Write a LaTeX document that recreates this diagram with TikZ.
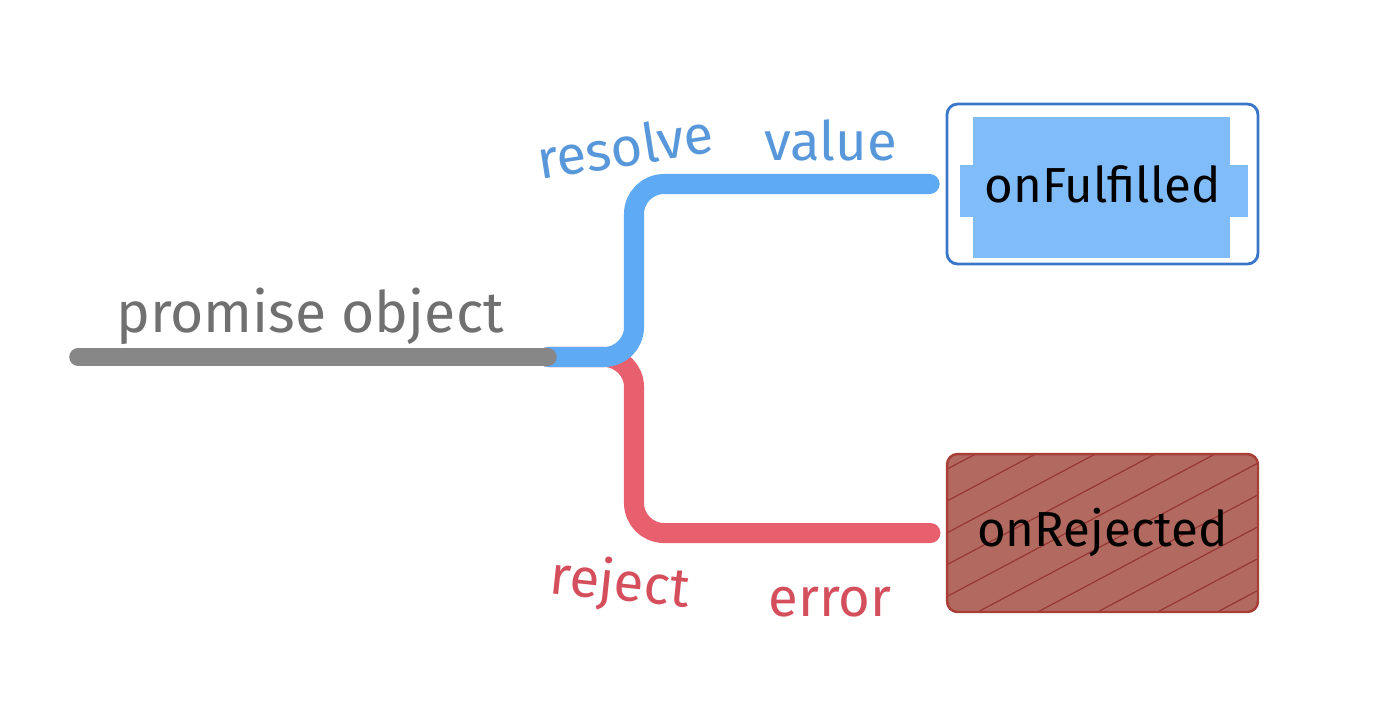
\documentclass[tikz,border=0pt]{standalone}
\usepackage{fontspec}
\setmainfont{Fira Sans}
\usepackage{tikz}
\usepackage{xcolor}
\usetikzlibrary{calc,patterns.meta}
\definecolor{objgray}{RGB}{135,135,135}
\definecolor{objtext}{RGB}{112,112,112}
\definecolor{resblue}{RGB}{95,170,245}
\definecolor{restext}{RGB}{88,152,218}
\definecolor{rejred}{RGB}{232,96,110}
\definecolor{rejtext}{RGB}{212,78,92}
\definecolor{fulborder}{RGB}{58,118,200}
\definecolor{fulfill}{RGB}{128,188,248}
\definecolor{rjfill}{RGB}{178,106,96}
\definecolor{rjborder}{RGB}{168,62,56}
\definecolor{rjhatch}{RGB}{150,56,50}
\tikzset{
    fulfilled-box/.style = {draw=fulborder, line width=1.6pt, rectangle, rounded corners=6pt, minimum width=6.22cm, minimum height=3.2cm, font=\fontsize{28}{32}\selectfont,
        path picture={
            \fill[fulfill, sharp corners] ($(path picture bounding box.north west)+(0.52cm,-0.26cm)$) rectangle ($(path picture bounding box.south east)+(-0.56cm,0.12cm)$);
            \fill[fulfill, sharp corners] ($(path picture bounding box.north west)+(0.26cm,-1.22cm)$) rectangle ($(path picture bounding box.south east)+(-0.2cm,0.94cm)$);
        }},
    rejected-box/.style = {draw=rjborder, line width=1.4pt, rectangle, rounded corners=6pt, minimum width=6.22cm, minimum height=3.16cm, font=\fontsize{28}{32}\selectfont,
        preaction={fill=rjfill}, pattern={Lines[angle=28,distance=16pt,line width=0.7pt]}, pattern color=rjhatch},
    object-line/.style = {draw=objgray, line width=10pt, line cap=round},
    resolve-line/.style = {draw=resblue, line width=11.4pt, line cap=round, rounded corners=0.6cm},
    reject-line/.style = {draw=rejred, line width=11.4pt, line cap=round, rounded corners=0.6cm},
    object-label/.style = {text=objtext, inner sep=0pt, font=\fontsize{32.5}{38}\selectfont},
    resolve-label/.style = {text=restext, inner sep=0pt, font=\fontsize{31}{36}\selectfont},
    reject-label/.style = {text=rejtext, inner sep=0pt, font=\fontsize{31}{36}\selectfont},
}

\begin{document}
\begin{tikzpicture}[x=0.02cm, y=-0.02cm]
\useasboundingbox (0,0) rectangle (1378,718);

% handlers
\node[fulfilled-box] (fulfilled) at (1102.5,184) {onFulfilled};
\node[rejected-box] (rejected) at (1102.5,533) {onRejected};

% the promise and its two branches
\coordinate (start) at (78,357);
\coordinate (grayend) at (548,357);
\coordinate (split) at (634,357);
\draw[reject-line, shorten >=0.32cm] (grayend) -- (split) |- (rejected.west);
\draw[resolve-line, shorten >=0.32cm] (grayend) -- (split) |- (fulfilled.west);
\draw[object-line] (start) -- (grayend);

% labels
\node[object-label] (object) at (310,316) {promise object};
\node[resolve-label, rotate=9] (resolve) at (625,146) {resolve};
\node[resolve-label] (value) at (831,140) {value};
\node[reject-label, rotate=-6] (reject) at (620,585) {reject};
\node[reject-label] (error) at (830,602) {error};
\end{tikzpicture}
\end{document}
